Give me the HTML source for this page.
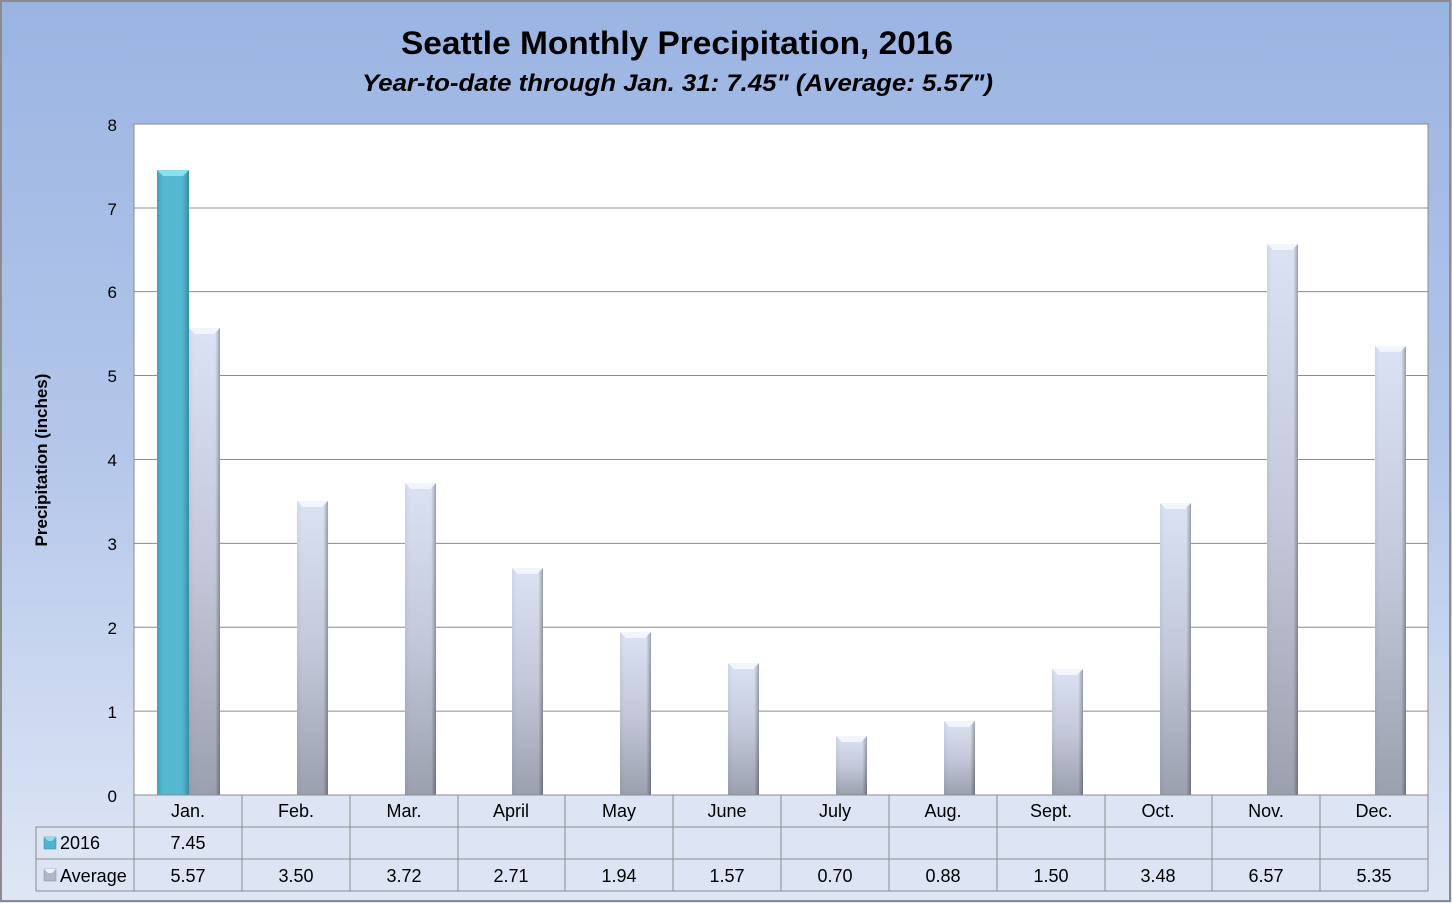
<!DOCTYPE html>
<html><head><meta charset="utf-8"><style>
html,body{margin:0;padding:0;width:1452px;height:903px;overflow:hidden;}
svg{display:block;}
text{font-family:"Liberation Sans",sans-serif;fill:#000;}
</style></head><body>
<svg width="1452" height="903" xmlns="http://www.w3.org/2000/svg">
<defs>
<linearGradient id="bg" x1="0" y1="0" x2="0" y2="1">
<stop offset="0" stop-color="#9ab4e2"/><stop offset="0.5" stop-color="#b4c7ea"/><stop offset="1" stop-color="#dfe7f5"/>
</linearGradient>
<linearGradient id="avgV" x1="0" y1="0" x2="0" y2="1">
<stop offset="0" stop-color="#dbe2f3"/><stop offset="0.5" stop-color="#c3c9da"/><stop offset="1" stop-color="#9ba0ae"/>
</linearGradient>
<linearGradient id="avgH" x1="0" y1="0" x2="1" y2="0">
<stop offset="0" stop-color="#000" stop-opacity="0.05"/><stop offset="0.15" stop-color="#000" stop-opacity="0"/><stop offset="0.85" stop-color="#000" stop-opacity="0"/><stop offset="1" stop-color="#000" stop-opacity="0.3"/>
</linearGradient>
<linearGradient id="cy" x1="0" y1="0" x2="1" y2="0">
<stop offset="0" stop-color="#3fa6bf"/><stop offset="0.2" stop-color="#55b7d0"/><stop offset="0.8" stop-color="#55b7d0"/><stop offset="1" stop-color="#3a8aa0"/>
</linearGradient>
</defs>
<rect x="0" y="0" width="1452" height="903" fill="url(#bg)"/>
<rect x="1" y="1" width="1449" height="900" fill="none" stroke="#8c8c8c" stroke-width="2"/>
<text x="401" y="54" font-size="32" font-weight="bold" textLength="552" lengthAdjust="spacingAndGlyphs">Seattle Monthly Precipitation, 2016</text>
<text x="362" y="91" font-size="24" font-weight="bold" font-style="italic" textLength="631" lengthAdjust="spacingAndGlyphs">Year-to-date through Jan. 31: 7.45" (Average: 5.57")</text>
<rect x="134" y="124" width="1294" height="671" fill="#fff" stroke="#8c8c8c"/>
<g stroke="#8c8c8c" stroke-width="1">
<line x1="134" x2="1428" y1="208" y2="208"/><line x1="134" x2="1428" y1="291.6" y2="291.6"/>
<line x1="134" x2="1428" y1="375.5" y2="375.5"/><line x1="134" x2="1428" y1="459.5" y2="459.5"/>
<line x1="134" x2="1428" y1="543.4" y2="543.4"/><line x1="134" x2="1428" y1="627.3" y2="627.3"/>
<line x1="134" x2="1428" y1="711.1" y2="711.1"/>
</g>
<g font-size="17" text-anchor="end">
<text x="117" y="131">8</text><text x="117" y="215">7</text><text x="117" y="298">6</text>
<text x="117" y="382">5</text><text x="117" y="466">4</text><text x="117" y="550">3</text>
<text x="117" y="634">2</text><text x="117" y="718">1</text><text x="117" y="802">0</text>
</g>
<text transform="translate(47,460) rotate(-90)" font-size="17" font-weight="bold" text-anchor="middle">Precipitation (inches)</text>
<rect x="157" y="170" width="32" height="625" fill="url(#cy)"/>
<polygon points="157,170 189,170 183,176 163,176" fill="#8be0f0"/>
<g>
<rect x="189" y="328" width="31" height="467" fill="url(#avgV)"/><rect x="189" y="328" width="31" height="467" fill="url(#avgH)"/>
<rect x="297" y="501" width="31" height="294" fill="url(#avgV)"/><rect x="297" y="501" width="31" height="294" fill="url(#avgH)"/>
<rect x="405" y="483" width="31" height="312" fill="url(#avgV)"/><rect x="405" y="483" width="31" height="312" fill="url(#avgH)"/>
<rect x="512" y="568" width="31" height="227" fill="url(#avgV)"/><rect x="512" y="568" width="31" height="227" fill="url(#avgH)"/>
<rect x="620" y="632" width="31" height="163" fill="url(#avgV)"/><rect x="620" y="632" width="31" height="163" fill="url(#avgH)"/>
<rect x="728" y="663" width="31" height="132" fill="url(#avgV)"/><rect x="728" y="663" width="31" height="132" fill="url(#avgH)"/>
<rect x="836" y="736" width="31" height="59" fill="url(#avgV)"/><rect x="836" y="736" width="31" height="59" fill="url(#avgH)"/>
<rect x="944" y="721" width="31" height="74" fill="url(#avgV)"/><rect x="944" y="721" width="31" height="74" fill="url(#avgH)"/>
<rect x="1052" y="669" width="31" height="126" fill="url(#avgV)"/><rect x="1052" y="669" width="31" height="126" fill="url(#avgH)"/>
<rect x="1160" y="503" width="31" height="292" fill="url(#avgV)"/><rect x="1160" y="503" width="31" height="292" fill="url(#avgH)"/>
<rect x="1267" y="244" width="31" height="551" fill="url(#avgV)"/><rect x="1267" y="244" width="31" height="551" fill="url(#avgH)"/>
<rect x="1375" y="346" width="31" height="449" fill="url(#avgV)"/><rect x="1375" y="346" width="31" height="449" fill="url(#avgH)"/>
</g>
<g fill="#f2f5fc">
<polygon points="189,328 220,328 214,334 195,334"/><polygon points="297,501 328,501 322,507 303,507"/>
<polygon points="405,483 436,483 430,489 411,489"/><polygon points="512,568 543,568 537,574 518,574"/>
<polygon points="620,632 651,632 645,638 626,638"/><polygon points="728,663 759,663 753,669 734,669"/>
<polygon points="836,736 867,736 861,742 842,742"/><polygon points="944,721 975,721 969,727 950,727"/>
<polygon points="1052,669 1083,669 1077,675 1058,675"/><polygon points="1160,503 1191,503 1185,509 1166,509"/>
<polygon points="1267,244 1298,244 1292,250 1273,250"/><polygon points="1375,346 1406,346 1400,352 1381,352"/>
</g>
<rect x="134" y="795" width="1294" height="96" fill="#dde4f4"/>
<rect x="36" y="827" width="98" height="64" fill="#dde4f4"/>
<g stroke="#8c8c8c" stroke-width="1" fill="none">
<line x1="134" x2="1428" y1="827" y2="827"/><line x1="36" x2="1428" y1="859" y2="859"/>
<rect x="36" y="827" width="1392" height="64"/>
<line x1="134" x2="1428" y1="795" y2="795"/>
<line x1="134" x2="134" y1="795" y2="891"/><line x1="242" x2="242" y1="795" y2="891"/>
<line x1="350" x2="350" y1="795" y2="891"/><line x1="458" x2="458" y1="795" y2="891"/>
<line x1="565" x2="565" y1="795" y2="891"/><line x1="673" x2="673" y1="795" y2="891"/>
<line x1="781" x2="781" y1="795" y2="891"/><line x1="889" x2="889" y1="795" y2="891"/>
<line x1="997" x2="997" y1="795" y2="891"/><line x1="1105" x2="1105" y1="795" y2="891"/>
<line x1="1212" x2="1212" y1="795" y2="891"/><line x1="1320" x2="1320" y1="795" y2="891"/>
<line x1="1428" x2="1428" y1="795" y2="891"/>
</g>
<g font-size="18" text-anchor="middle">
<text x="188" y="817">Jan.</text><text x="296" y="817">Feb.</text><text x="404" y="817">Mar.</text>
<text x="511" y="817">April</text><text x="619" y="817">May</text><text x="727" y="817">June</text>
<text x="835" y="817">July</text><text x="943" y="817">Aug.</text><text x="1051" y="817">Sept.</text>
<text x="1158" y="817">Oct.</text><text x="1266" y="817">Nov.</text><text x="1374" y="817">Dec.</text>
<text x="188" y="849">7.45</text>
<text x="188" y="882">5.57</text><text x="296" y="882">3.50</text><text x="404" y="882">3.72</text>
<text x="511" y="882">2.71</text><text x="619" y="882">1.94</text><text x="727" y="882">1.57</text>
<text x="835" y="882">0.70</text><text x="943" y="882">0.88</text><text x="1051" y="882">1.50</text>
<text x="1158" y="882">3.48</text><text x="1266" y="882">6.57</text><text x="1374" y="882">5.35</text>
</g>
<rect x="44" y="837" width="12" height="12" fill="#4fb3cc" stroke="#3a8aa0" stroke-width="0.5"/>
<polygon points="44,837 56,837 52,841 48,841" fill="#8be0f0"/>
<rect x="44" y="869" width="12" height="12" fill="#b0b6c6" stroke="#8a8e9a" stroke-width="0.5"/>
<polygon points="44,869 56,869 52,873 48,873" fill="#eef1f8"/>
<text x="60" y="849" font-size="18">2016</text>
<text x="60" y="882" font-size="18">Average</text>
</svg>
</body></html>
